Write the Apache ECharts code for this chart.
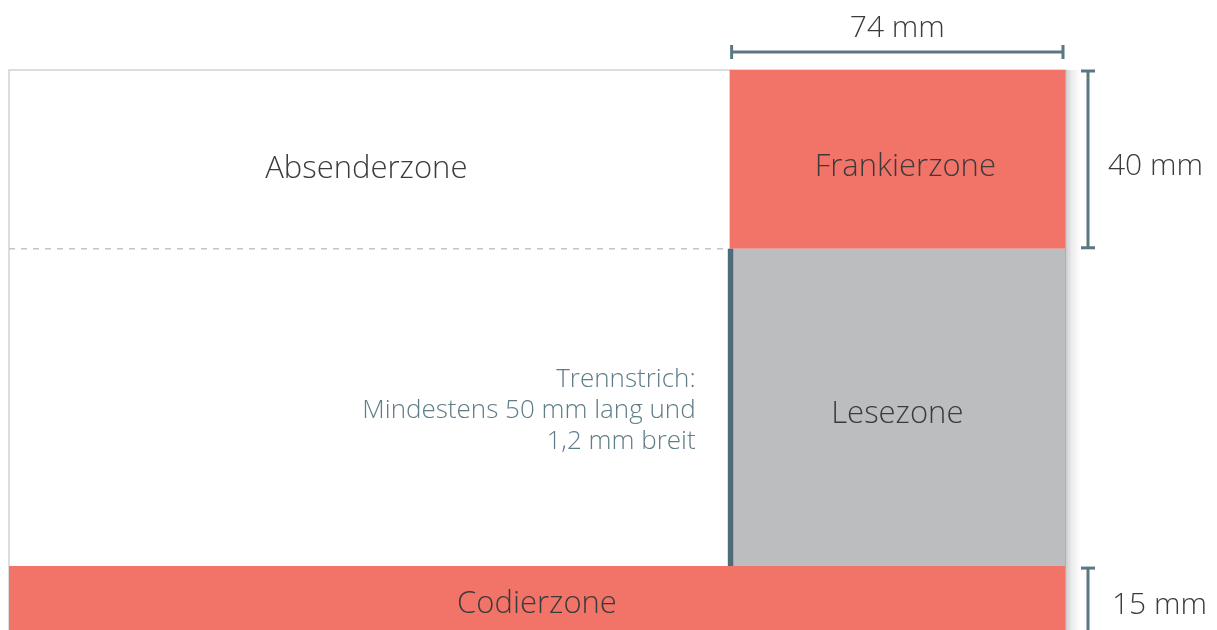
<!DOCTYPE html>
<html><head><meta charset="utf-8">
<script src="https://cdn.jsdelivr.net/npm/echarts@6/dist/echarts.min.js"></script>
<style>html,body{margin:0;padding:0;background:#fff}#c{width:1217px;height:630px}</style>
</head><body><div id="c"></div>
<script>
// Envelope geometry in mm
const envelopeSize = [233, 126];          // width, height
const visibleHeight = 125.3;              // part of the envelope inside the picture
const zoneNames = ['Absenderzone', 'Frankierzone', 'Lesezone', 'Codierzone'];
const frankierSize = [74, 40];            // width, height
const codierHeight = 15;
const trennstrichWidth = 1.2;
const dimLabels = ['74 mm', '40 mm', '15 mm'];
const noteLines = ['Trennstrich:', 'Mindestens 50 mm lang und', '1,2 mm breit'];

const W = envelopeSize[0], H = envelopeSize[1];
const fx = W - frankierSize[0];
const zones = [
  { name: zoneNames[0], x0: 0, y0: 0, x1: fx, y1: frankierSize[1], fill: null },
  { name: zoneNames[1], x0: fx, y0: 0, x1: W, y1: frankierSize[1], fill: '#F27368' },
  { name: zoneNames[2], x0: fx, y0: frankierSize[1], x1: W, y1: H - codierHeight, fill: '#BCBDBF' },
  { name: zoneNames[3], x0: 0, y0: H - codierHeight, x1: W, y1: H, fill: '#F27368' }
];

const FONT = "'Open Sans'";
const FW = '300 ';
const TXT = '#3b3b3b';
const DIM = '#5B7782';
const labelDx = [-3, 8, 0, 0];
const labelDy = [10, 8, 7, 5];

function renderAll(params, api) {
  const c = (x, y) => api.coord([x, y]);
  const ch = [];
  const tl = c(0, 0), br = c(W, H);
  ch.push({ type: 'rect', shape: { x: tl[0], y: tl[1], width: br[0] - tl[0], height: br[1] - tl[1] },
    style: { fill: '#fff', stroke: '#d2d2d2', lineWidth: 1.5 } });
  const sTop = c(W, 0), sBot = c(W, H);
  ch.push({ type: 'rect', shape: { x: sTop[0], y: sTop[1], width: 16, height: sBot[1] - sTop[1] },
    style: { fill: new echarts.graphic.LinearGradient(0, 0, 1, 0, [
      { offset: 0, color: 'rgba(0,0,0,0.22)' }, { offset: 0.4, color: 'rgba(0,0,0,0.08)' }, { offset: 1, color: 'rgba(0,0,0,0)' }]) } });
  zones.forEach((z, i) => {
    const a = c(z.x0, z.y0), b = c(z.x1, z.y1);
    if (z.fill) ch.push({ type: 'rect', shape: { x: a[0], y: a[1], width: b[0] - a[0], height: b[1] - a[1] }, style: { fill: z.fill } });
    ch.push({ type: 'text', x: (a[0] + b[0]) / 2 + labelDx[i], y: (a[1] + b[1]) / 2 + labelDy[i],
      style: { text: z.name, fill: TXT, font: FW + '31px ' + FONT, align: 'center', verticalAlign: 'middle' }, z2: 10 });
  });
  const d0 = c(0, frankierSize[1]), d1 = c(fx, frankierSize[1]);
  ch.push({ type: 'line', shape: { x1: d0[0], y1: d0[1], x2: d1[0], y2: d1[1] }, style: { stroke: '#c4c4c4', lineWidth: 1.5, lineDash: [6, 6] } });
  const t0 = c(fx - trennstrichWidth / 3, frankierSize[1]), t1 = c(fx + trennstrichWidth * 2 / 3, H - codierHeight);
  ch.push({ type: 'rect', shape: { x: t0[0], y: t0[1], width: t1[0] - t0[0], height: t1[1] - t0[1] }, style: { fill: '#4E6C78' } });
  const nm = c(fx, (frankierSize[1] + H - codierHeight) / 2);
  ch.push({ type: 'text', x: nm[0] - 34, y: nm[1] + 3,
    style: { text: noteLines.join('\n'), fill: '#5F7D88', font: FW + '26px ' + FONT, lineHeight: 31, align: 'right', verticalAlign: 'middle' } });
  const h0 = c(fx, 0), h1 = c(W, 0);
  const hy = h0[1] - 18;
  const dimStyle = { stroke: DIM, lineWidth: 3 };
  ch.push({ type: 'line', shape: { x1: h0[0] + 2, y1: hy, x2: h1[0] - 2, y2: hy }, style: dimStyle });
  ch.push({ type: 'line', shape: { x1: h0[0] + 2, y1: hy - 7, x2: h0[0] + 2, y2: hy + 7 }, style: dimStyle });
  ch.push({ type: 'line', shape: { x1: h1[0] - 2, y1: hy - 7, x2: h1[0] - 2, y2: hy + 7 }, style: dimStyle });
  ch.push({ type: 'text', x: (h0[0] + h1[0]) / 2, y: hy - 24,
    style: { text: dimLabels[0], fill: TXT, font: FW + '30px ' + FONT, align: 'center', verticalAlign: 'middle' } });
  const v0 = c(W, 0), v1 = c(W, frankierSize[1]);
  const vx = v0[0] + 23;
  ch.push({ type: 'line', shape: { x1: vx, y1: v0[1] + 1, x2: vx, y2: v1[1] - 1 }, style: dimStyle });
  ch.push({ type: 'line', shape: { x1: vx - 7, y1: v0[1] + 1, x2: vx + 7, y2: v0[1] + 1 }, style: dimStyle });
  ch.push({ type: 'line', shape: { x1: vx - 7, y1: v1[1] - 1, x2: vx + 7, y2: v1[1] - 1 }, style: dimStyle });
  ch.push({ type: 'text', x: vx + 20, y: (v0[1] + v1[1]) / 2 + 7,
    style: { text: dimLabels[1], fill: TXT, font: FW + '30px ' + FONT, align: 'left', verticalAlign: 'middle' } });
  const w0 = c(W, H - codierHeight), w1 = c(W, H);
  ch.push({ type: 'line', shape: { x1: vx, y1: w0[1] + 2, x2: vx, y2: w1[1] - 1 }, style: dimStyle });
  ch.push({ type: 'line', shape: { x1: vx - 7, y1: w0[1] + 2, x2: vx + 7, y2: w0[1] + 2 }, style: dimStyle });
  ch.push({ type: 'line', shape: { x1: vx - 7, y1: w1[1] - 1, x2: vx + 7, y2: w1[1] - 1 }, style: dimStyle });
  ch.push({ type: 'text', x: vx + 24, y: (w0[1] + w1[1]) / 2 + 6,
    style: { text: dimLabels[2], fill: TXT, font: FW + '30px ' + FONT, align: 'left', verticalAlign: 'middle' } });
  return { type: 'group', children: ch };
}

const chart = echarts.init(document.getElementById('c'), null, { renderer: 'canvas' });
chart.setOption({
  animation: false,
  grid: { left: 9, top: 70, width: 1056, bottom: 0 },
  xAxis: { type: 'value', min: 0, max: W, show: false },
  yAxis: { type: 'value', min: 0, max: visibleHeight, inverse: true, show: false },
  series: [{ type: 'custom', clip: false, data: [[0, 0]], renderItem: renderAll, silent: true }]
});
</script></body></html>
